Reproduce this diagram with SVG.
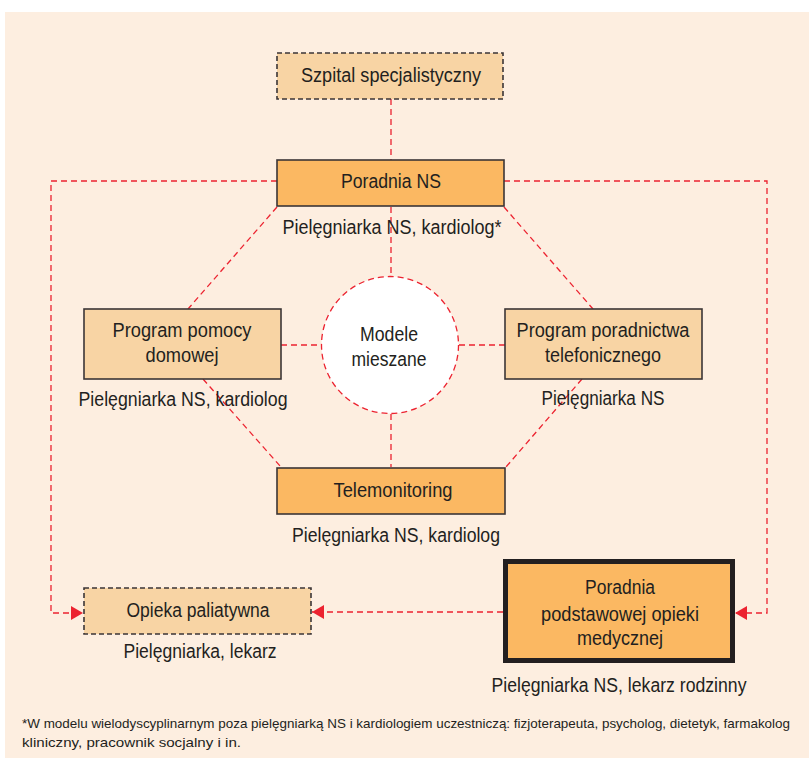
<svg xmlns="http://www.w3.org/2000/svg" width="809" height="763" viewBox="0 0 809 763">
<defs>
<style>
.t{font-family:"Liberation Sans","Arial",sans-serif;font-size:20px;fill:#231f20;text-anchor:middle}
.fn{font-family:"Liberation Sans","Arial",sans-serif;font-size:13px;fill:#231f20}
.c{fill:none;stroke:#ec2330;stroke-width:1.3;stroke-dasharray:6 4}
.light{fill:#f8d4a4;stroke:#3b3536;stroke-width:1.6}
.lightd{fill:#f8d4a4;stroke:#3b3536;stroke-width:1.6;stroke-dasharray:5 3}
.orange{fill:#fbb862;stroke:#3b3536;stroke-width:1.6}
</style>
<marker id="ah" markerWidth="12" markerHeight="14" refX="12" refY="7" orient="auto" markerUnits="userSpaceOnUse">
<path d="M0,0 L12,7 L0,14 Z" fill="#ec2330"/>
</marker>
</defs>
<rect x="5" y="12" width="804" height="746" fill="#fdeee0"/>
<g id="connectors">
<line class="c" x1="391" y1="99" x2="391" y2="160"/>
<line class="c" x1="391" y1="207" x2="391" y2="277"/>
<line class="c" x1="391" y1="414" x2="391" y2="467"/>
<line class="c" x1="281" y1="345" x2="321" y2="345"/>
<line class="c" x1="459" y1="345" x2="505" y2="345"/>
<line class="c" x1="277" y1="207" x2="188" y2="309"/>
<line class="c" x1="504" y1="207" x2="593" y2="309"/>
<line class="c" x1="203" y1="379" x2="281" y2="467"/>
<line class="c" x1="582" y1="379" x2="506" y2="467"/>
<polyline class="c" points="277,181 51,181 51,613 83,613" marker-end="url(#ah)"/>
<polyline class="c" points="504,181 767,181 767,613 735,613" marker-end="url(#ah)"/>
<line class="c" x1="503" y1="612" x2="312" y2="612" marker-end="url(#ah)"/>
</g>
<g id="szpital">
<rect class="lightd" x="277" y="53" width="226" height="46"/>
<text class="t" x="391" y="82" textLength="180" lengthAdjust="spacingAndGlyphs">Szpital specjalistyczny</text>
</g>
<g id="poradnia-ns">
<rect class="orange" x="277" y="160" width="227" height="46"/>
<text class="t" x="391" y="188" textLength="100" lengthAdjust="spacingAndGlyphs">Poradnia NS</text>
<text class="t" x="392" y="234" textLength="219" lengthAdjust="spacingAndGlyphs">Pielęgniarka NS, kardiolog*</text>
</g>
<g id="program-pomocy">
<rect class="light" x="84" y="309" width="197" height="70"/>
<text class="t" x="182" y="337" textLength="139" lengthAdjust="spacingAndGlyphs">Program pomocy</text>
<text class="t" x="182" y="362" textLength="73" lengthAdjust="spacingAndGlyphs">domowej</text>
<text class="t" x="183" y="406" textLength="209" lengthAdjust="spacingAndGlyphs">Pielęgniarka NS, kardiolog</text>
</g>
<g id="modele">
<circle cx="390" cy="345" r="68.5" fill="#ffffff" stroke="#ec2330" stroke-width="1.3" stroke-dasharray="6 4"/>
<text class="t" x="389" y="341" textLength="58" lengthAdjust="spacingAndGlyphs">Modele</text>
<text class="t" x="389" y="366" textLength="75" lengthAdjust="spacingAndGlyphs">mieszane</text>
</g>
<g id="program-poradnictwa">
<rect class="light" x="505" y="309" width="197" height="70"/>
<text class="t" x="603" y="337" textLength="173" lengthAdjust="spacingAndGlyphs">Program poradnictwa</text>
<text class="t" x="603" y="362" textLength="116" lengthAdjust="spacingAndGlyphs">telefonicznego</text>
<text class="t" x="603" y="405" textLength="123" lengthAdjust="spacingAndGlyphs">Pielęgniarka NS</text>
</g>
<g id="telemonitoring">
<rect class="orange" x="277" y="468" width="228" height="46"/>
<text class="t" x="393" y="497" textLength="119" lengthAdjust="spacingAndGlyphs">Telemonitoring</text>
<text class="t" x="396" y="542" textLength="208" lengthAdjust="spacingAndGlyphs">Pielęgniarka NS, kardiolog</text>
</g>
<g id="opieka">
<rect class="lightd" x="84" y="588" width="227" height="46"/>
<text class="t" x="198" y="617" textLength="143" lengthAdjust="spacingAndGlyphs">Opieka paliatywna</text>
<text class="t" x="200" y="658" textLength="153" lengthAdjust="spacingAndGlyphs">Pielęgniarka, lekarz</text>
</g>
<g id="poradnia-poz">
<rect x="505.5" y="561.5" width="227" height="99" fill="#fbb862" stroke="#231f20" stroke-width="5"/>
<text class="t" x="620" y="594" textLength="70" lengthAdjust="spacingAndGlyphs">Poradnia</text>
<text class="t" x="620" y="621" textLength="158" lengthAdjust="spacingAndGlyphs">podstawowej opieki</text>
<text class="t" x="620" y="645" textLength="86" lengthAdjust="spacingAndGlyphs">medycznej</text>
<text class="t" x="619" y="692" textLength="255" lengthAdjust="spacingAndGlyphs">Pielęgniarka NS, lekarz rodzinny</text>
</g>
<g id="footnote">
<text class="fn" x="22" y="728" textLength="768" lengthAdjust="spacingAndGlyphs">*W modelu wielodyscyplinarnym poza pielęgniarką NS i kardiologiem uczestniczą: fizjoterapeuta, psycholog, dietetyk, farmakolog</text>
<text class="fn" x="22" y="747" textLength="219" lengthAdjust="spacingAndGlyphs">kliniczny, pracownik socjalny i in.</text>
</g>
</svg>
